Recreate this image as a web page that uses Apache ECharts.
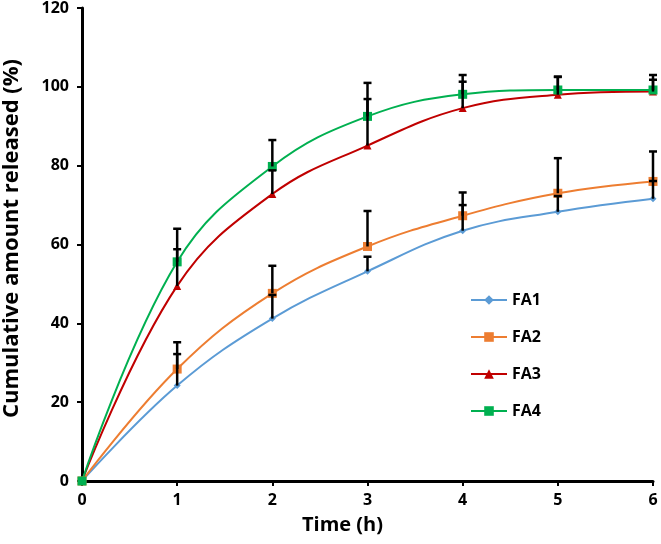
<!DOCTYPE html>
<html><head><meta charset="utf-8">
<script src="https://cdn.jsdelivr.net/npm/echarts@6/dist/echarts.min.js"></script>
<style>html,body{margin:0;padding:0;background:#fff}#c{width:661px;height:544px}</style>
</head><body><div id="c"></div>
<script>
var times = [0, 1, 2, 3, 4, 5, 6];
var fa1 = [0, 24.2, 41.2, 53.2, 63.5, 68.3, 71.6];
var fa2 = [0, 28.4, 47.6, 59.5, 67.3, 73.0, 76.0];
var fa3 = [0, 49.5, 72.8, 85.1, 94.6, 98.0, 98.8];
var fa4 = [0, 55.6, 79.8, 92.5, 98.1, 99.2, 99.2];
var err1 = [0, 8.0, 6.0, 3.7, 6.5, 4.0, 4.5];
var err2 = [0, 6.8, 7.0, 9.0, 5.9, 8.9, 7.6];
var err3 = [0, 9.3, 6.0, 11.8, 6.7, 4.5, 3.0];
var err4 = [0, 8.4, 6.7, 8.5, 4.9, 3.4, 3.8];
var yTicks = [0, 20, 40, 60, 80, 100, 120];

var names = ['FA1', 'FA2', 'FA3', 'FA4'];
var vals = [fa1, fa2, fa3, fa4];
var errs = [err1, err2, err3, err4];
var colors = ['#5B9BD5', '#ED7D31', '#C00000', '#00B050'];
var symbols = ['diamond', 'rect', 'triangle', 'rect'];
var sizes = [7, 9, 8, 9];
var FONT = 'Open Sans';

var series = [];
names.forEach(function (n, i) {
  series.push({
    name: n, type: 'line', smooth: 0.4,
    data: times.map(function (t, k) { return [t, vals[i][k]]; }),
    symbol: symbols[i], symbolSize: sizes[i],
    itemStyle: { color: colors[i] },
    lineStyle: { color: colors[i], width: 2 },
    z: 2
  });
});
names.forEach(function (n, i) {
  series.push({
    type: 'custom', silent: true, z: 3,
    data: times.map(function (t, k) { return [t, vals[i][k], vals[i][k] + errs[i][k]]; }).filter(function (d) { return d[0] > 0; }),
    renderItem: function (params, api) {
      var p0 = api.coord([api.value(0), api.value(1)]);
      var p1 = api.coord([api.value(0), api.value(2)]);
      return {
        type: 'group', children: [
          { type: 'line', shape: { x1: p0[0], y1: p0[1], x2: p1[0], y2: p1[1] }, style: { stroke: '#000', lineWidth: 2.5 } },
          { type: 'line', shape: { x1: p1[0] - 4, y1: p1[1], x2: p1[0] + 4, y2: p1[1] }, style: { stroke: '#000', lineWidth: 2.5 } }
        ]
      };
    }
  });
});

var chart = echarts.init(document.getElementById('c'));
chart.setOption({
  animation: false,
  backgroundColor: '#fff',
  grid: { left: 82, right: 8, top: 8, bottom: 63, containLabel: false, outerBoundsMode: 'none' },
  legend: {
    data: names,
    orient: 'vertical', left: 465, top: 287, itemGap: 21,
    itemWidth: 36, itemHeight: 12,
    textStyle: { color: '#000', fontWeight: 'bold', fontSize: 16, lineHeight: 16, fontFamily: FONT }
  },
  xAxis: {
    type: 'value', min: 0, max: 6, interval: 1,
    name: 'Time (h)', nameLocation: 'middle', nameGap: 34,
    nameTextStyle: { color: '#000', fontWeight: 'bold', fontSize: 20, fontFamily: FONT, padding: [0, 50, 0, 0] },
    axisLine: { lineStyle: { color: '#000', width: 3 } },
    axisTick: { show: true, length: 5, lineStyle: { color: '#000', width: 2 } },
    axisLabel: { color: '#000', fontWeight: 'bold', fontSize: 16, fontFamily: FONT, margin: 11 },
    splitLine: { show: false }
  },
  yAxis: {
    type: 'value', min: 0, max: 120, interval: 20,
    name: 'Cumulative amount released (%)', nameLocation: 'middle', nameGap: 59, nameRotate: 90,
    nameTextStyle: { color: '#000', fontWeight: 'bold', fontSize: 22, fontFamily: FONT, padding: [0, 0, 0, 12] },
    axisLine: { show: true, lineStyle: { color: '#000', width: 3 } },
    axisTick: { show: true, length: 5, lineStyle: { color: '#000', width: 2 } },
    axisLabel: { color: '#000', fontWeight: 'bold', fontSize: 16, fontFamily: FONT, margin: 13,
      formatter: function (v) { return yTicks.indexOf(v) >= 0 ? String(v) : ''; } },
    splitLine: { show: false }
  },
  series: series
});
</script></body></html>
